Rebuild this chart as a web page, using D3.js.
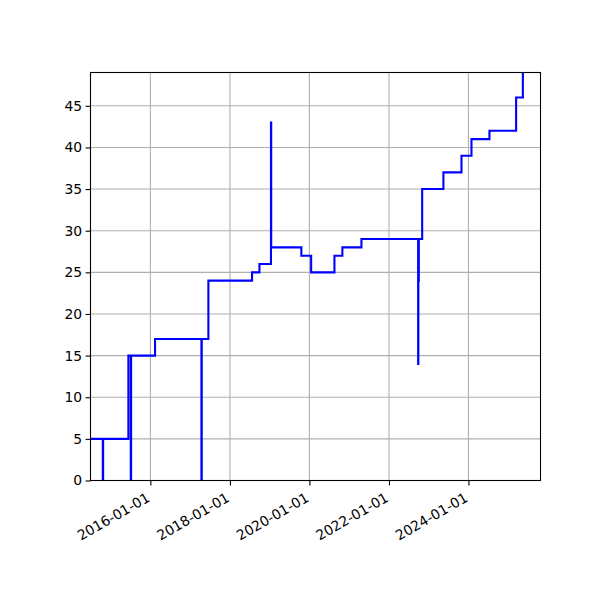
<!DOCTYPE html>
<html>
<head>
<meta charset="utf-8">
<script src="https://cdn.jsdelivr.net/npm/d3@7"></script>
<style>
  body { margin: 0; background: #fff; }
  svg { display: block; }
  text { font-family: "DejaVu Sans", sans-serif; font-size: 13.9px; fill: #000; }
</style>
</head>
<body>
<svg id="chart" width="600" height="600"></svg>
<script>
// Data (steps-post): change dates and the value held from that date onward
const dates = [
  "2014-06-20", "2014-10-21", "2014-10-24", "2015-06-13", "2015-07-05", "2015-07-08",
  "2016-02-13", "2017-04-14", "2017-04-17", "2017-06-17", "2018-07-23", "2018-09-29",
  "2019-01-13", "2019-01-15", "2019-10-19", "2020-01-17", "2020-08-18", "2020-10-30",
  "2021-04-23", "2022-09-26", "2022-09-28", "2022-09-30", "2022-10-02", "2022-11-02",
  "2023-05-16", "2023-10-29", "2024-01-29", "2024-07-12", "2025-03-14", "2025-05-15"
];
const values = [
  5, 0, 5, 15, 0, 15,
  17, 0, 17, 24, 25, 26,
  43, 28, 27, 25, 27, 28,
  29, 14, 29, 24, 29, 35,
  37, 39, 41, 42, 46, 52
];
const xDomain = ["2014-06-30", "2025-10-24"];
const yDomain = [0, 49];
const yTicks = [0, 5, 10, 15, 20, 25, 30, 35, 40, 45];
const xTickLabels = ["2016-01-01", "2018-01-01", "2020-01-01", "2022-01-01", "2024-01-01"];

const parse = d3.utcParse("%Y-%m-%d");
const data = dates.map((d, i) => ({ date: parse(d), value: values[i] }));

const pLeft = 90.5, pRight = 540.5, pTop = 72.5, pBottom = 480.5;
const svg = d3.select("#chart");

const x = d3.scaleUtc().domain(xDomain.map(parse)).range([pLeft, pRight]);
const y = d3.scaleLinear().domain(yDomain).range([pBottom, pTop]);
const xTicks = xTickLabels.map(parse);

// grid
const grid = svg.append("g");
grid.selectAll("line.vx").data(xTicks).join("line")
  .attr("x1", d => x(d)).attr("x2", d => x(d))
  .attr("y1", pTop).attr("y2", pBottom)
  .attr("stroke", "#b0b0b0").attr("stroke-width", 1.1);
grid.selectAll("line.hy").data(yTicks).join("line")
  .attr("x1", pLeft).attr("x2", pRight)
  .attr("y1", d => y(d)).attr("y2", d => y(d))
  .attr("stroke", "#b0b0b0").attr("stroke-width", 1.1);

// clip
svg.append("clipPath").attr("id", "clip").append("rect")
  .attr("x", pLeft).attr("y", pTop).attr("width", pRight - pLeft).attr("height", pBottom - pTop);

const line = d3.line().x(d => x(d.date)).y(d => y(d.value)).curve(d3.curveStepAfter);
svg.append("path").datum(data)
  .attr("clip-path", "url(#clip)")
  .attr("fill", "none").attr("stroke", "#0000ff").attr("stroke-width", 2.1)
  .attr("stroke-linejoin", "miter").attr("stroke-linecap", "square")
  .attr("d", line);

// axes
const xAxis = d3.axisBottom(x).tickValues(xTicks).tickFormat(d3.utcFormat("%Y-%m-%d"))
  .tickSize(4.9).tickPadding(3.5);
const gx = svg.append("g").attr("transform", `translate(0,${pBottom})`).call(xAxis);
gx.select(".domain").remove();
gx.selectAll(".tick line").attr("stroke", "#000").attr("stroke-width", 1.1);
gx.selectAll(".tick text")
  .attr("font-family", "DejaVu Sans").attr("font-size", 13.9)
  .attr("text-anchor", "end")
  .attr("dy", null)
  .attr("x", 0).attr("y", 0)
  .attr("transform", "translate(0,20) rotate(-30)");

const yAxis = d3.axisLeft(y).tickValues(yTicks).tickSize(4.9).tickPadding(3.5);
const gy = svg.append("g").attr("transform", `translate(${pLeft},0)`).call(yAxis);
gy.select(".domain").remove();
gy.selectAll(".tick line").attr("stroke", "#000").attr("stroke-width", 1.1);
gy.selectAll(".tick text").attr("font-family", "DejaVu Sans").attr("font-size", 13.9);

// frame
svg.append("rect").attr("x", pLeft).attr("y", pTop)
  .attr("width", pRight - pLeft).attr("height", pBottom - pTop)
  .attr("fill", "none").attr("stroke", "#000").attr("stroke-width", 1.1);
</script>
</body>
</html>
